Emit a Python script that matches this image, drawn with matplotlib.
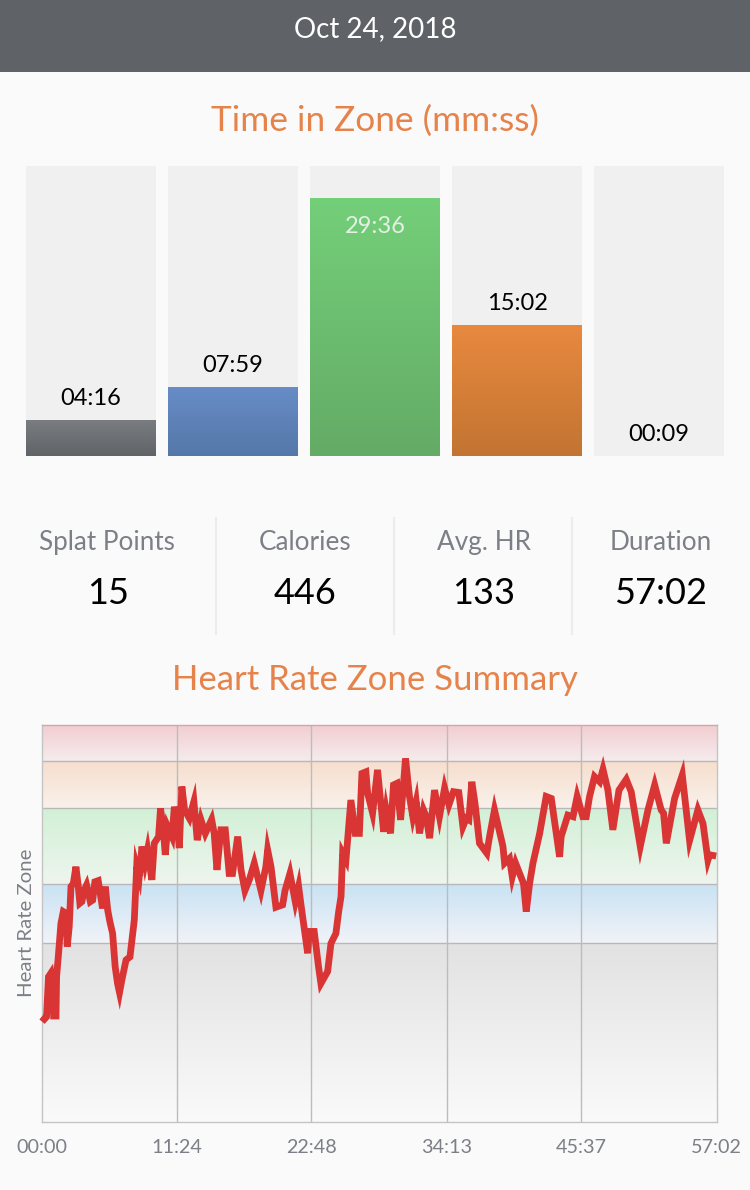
import numpy as np
import matplotlib
matplotlib.use("Agg")
import matplotlib.pyplot as plt
from matplotlib.colors import LinearSegmentedColormap
from matplotlib.patches import Rectangle

plt.rcParams['font.family'] = ['Lato', 'DejaVu Sans']

W, H = 750, 1190

# ---------- data ----------
date_label = "Oct 24, 2018"
zone_seconds = [256, 479, 1776, 902, 9]
zone_labels = ["04:16", "07:59", "29:36", "15:02", "00:09"]
stat_names = ["Splat Points", "Calories", "Avg. HR", "Duration"]
stat_values = ["15", "446", "133", "57:02"]
time_ticks = [0, 684, 1368, 2053, 2737, 3422]
time_tick_labels = ["00:00", "11:24", "22:48", "34:13", "45:37", "57:02"]
zone_edges = [0, 45, 60, 79, 91, 100]

hr_time = [0, 14, 25, 35, 47, 56, 61, 73, 76, 86, 98, 110, 123, 130, 140, 149, 161, 174, 186, 194,
           204, 216, 228, 238, 247, 259, 270, 287, 297, 309, 323, 335, 346, 360, 373, 385, 395, 407,
           428, 448, 470, 482, 495, 509, 524, 537, 559, 571, 593, 603, 617, 627, 639, 661, 673, 684,
           698, 711, 725, 749, 772, 789, 808, 830, 862, 875, 889, 909, 931, 951, 968, 994, 1011, 1031,
           1053, 1078, 1112, 1137, 1146, 1163, 1188, 1222, 1234, 1259, 1286, 1303, 1315, 1337, 1349,
           1357, 1382, 1404, 1416, 1450, 1467, 1492, 1506, 1518, 1526, 1543, 1568, 1590, 1611, 1624,
           1644, 1653, 1678, 1703, 1734, 1747, 1769, 1784, 1801, 1820, 1845, 1865, 1882, 1899, 1916,
           1936, 1950, 1967, 1992, 2017, 2043, 2065, 2088, 2115, 2136, 2153, 2166, 2181, 2197, 2220,
           2257, 2271, 2296, 2339, 2347, 2372, 2386, 2403, 2443, 2457, 2474, 2491, 2525, 2558, 2584,
           2626, 2634, 2668, 2694, 2715, 2744, 2761, 2778, 2803, 2829, 2846, 2871, 2896, 2927, 2964,
           2989, 3035, 3074, 3108, 3141, 3153, 3167, 3209, 3248, 3285, 3327, 3353, 3378, 3386, 3420]
hr_level = [26.5, 25.9, 26.5, 36.6, 37.5, 34.1, 26.7, 26.7, 36.6, 42.5, 50.0, 53.0, 52.6, 44.2, 49.2, 59.3,
            60.1, 64.3, 59.3, 55.1, 55.5, 58.4, 59.7, 57.6, 55.5, 55.9, 60.5, 60.8, 57.6, 53.8, 59.3, 53.4,
            50.5, 47.5, 39.1, 34.9, 32.6, 35.8, 40.8, 41.6, 50.9, 64.3, 61.8, 69.4, 65.2, 68.5, 61.0, 70.2,
            71.9, 79.0, 73.6, 67.3, 74.4, 71.9, 79.4, 76.9, 69.0, 84.5, 78.6, 76.5, 80.7, 71.0, 76.1, 72.7,
            76.2, 72.7, 63.5, 73.6, 73.6, 62.6, 62.6, 71.9, 63.5, 58.3, 61.0, 65.2, 58.3, 64.3, 68.5, 64.3,
            54.1, 54.7, 58.3, 62.6, 55.5, 59.3, 54.7, 46.7, 42.5, 48.0, 48.0, 39.1, 34.9, 37.9, 45.0, 47.5,
            53.0, 56.8, 67.7, 66.0, 81.1, 72.7, 72.7, 87.8, 88.2, 82.8, 77.8, 88.7, 73.1, 78.6, 72.7, 84.9,
            85.3, 76.1, 91.6, 82.0, 76.9, 80.7, 72.7, 78.6, 76.9, 71.5, 83.6, 76.9, 84.1, 79.9, 83.2, 83.0,
            74.4, 76.5, 76.1, 85.7, 80.3, 70.2, 67.7, 71.9, 78.6, 69.4, 65.2, 66.4, 61.8, 65.2, 60.1, 53.0,
            60.1, 65.2, 72.7, 82.0, 81.5, 66.8, 71.9, 77.3, 76.9, 82.0, 76.9, 76.9, 82.0, 87.0, 85.7, 88.8,
            83.6, 73.6, 83.6, 86.3, 83.2, 69.4, 78.6, 84.9, 78.6, 77.8, 70.2, 81.5, 87.4, 70.9, 78.6, 75.2,
            66.0, 67.3, 67.0]

# ---------- styles ----------
bar_grads = [("#797c80", "#606366"), ("#678cc6", "#5577a8"), ("#74cf79", "#64ab66"),
             ("#e8893f", "#c27432"), ("#e8893f", "#c27432")]
label_cols = ["black", "black", "#e4efe5", "black", "black"]
band_grads = [("#e2e2e3", "#fafafb"), ("#c8e2f3", "#f1f3f8"), ("#d2f0d6", "#eef5ee"),
              ("#f6decd", "#f9f1ea"), ("#f2cdd1", "#f5eced")]
ORANGE = "#e5834b"
GREY = "#7c7f86"


def grad(c_top, c_bot):
    return LinearSegmentedColormap.from_list("g", [c_top, c_bot])


def axes_px(l, t, r, b, **kw):
    return fig.add_axes([l / W, 1 - b / H, (r - l) / W, (b - t) / H], **kw)


def ftext(x, y, s, **kw):
    kw.setdefault("ha", "center")
    kw.setdefault("va", "center")
    fig.text(x / W, 1 - y / H, s, **kw)


fig = plt.figure(figsize=(W / 100, H / 100), dpi=100, facecolor="#fafafa")

# header
fig.add_artist(Rectangle((0, 1 - 72 / H), 1, 72 / H, transform=fig.transFigure,
                         facecolor="#5f6367", edgecolor="none"))
ftext(375, 29, date_label, color="white", fontsize=20)
ftext(375, 121, "Time in Zone (mm:ss)", color=ORANGE, fontsize=25.4)
ftext(375, 680, "Heart Rate Zone Summary", color=ORANGE, fontsize=25)

# zone bars
ymin, ymax = 10, 1996
px_unit = (ymax - ymin) / 290
bar_lefts = [26, 168, 310, 452, 594]
for i, (sec, lab) in enumerate(zip(zone_seconds, zone_labels)):
    ax = axes_px(bar_lefts[i], 166, bar_lefts[i] + 130, 456)
    ax.set_xlim(0, 1)
    ax.set_ylim(ymin, ymax)
    ax.axis("off")
    ax.bar([0.5], [ymax], width=1, color="#f0f0f0")
    if i < 4:
        ax.imshow(np.linspace(0, 1, 256).reshape(-1, 1), extent=(0, 1, 0, sec), aspect="auto",
                  cmap=grad(*bar_grads[i]), zorder=2)
        ax.set_xlim(0, 1)
        ax.set_ylim(ymin, ymax)
    if i == 2:
        ax.text(0.5, sec - 28 * px_unit, lab, color=label_cols[i], ha="center", va="center", fontsize=17, zorder=3)
    elif i == 4:
        ax.text(0.5, 23 * px_unit, lab, color=label_cols[i], ha="center", va="center", fontsize=17, zorder=3)
    else:
        ax.text(0.5, sec + 22 * px_unit, lab, color=label_cols[i], ha="center", va="center", fontsize=17, zorder=3)

# stats row
stat_x = [107, 305, 484, 661]
for x, n, v in zip(stat_x, stat_names, stat_values):
    ftext(x, 543, n, color=GREY, fontsize=18.8)
    ftext(x + (1 if n == "Splat Points" else 0), 593, v, color="black", fontsize=26)
for x in [216, 394, 572]:
    fig.add_artist(plt.Line2D([x / W, x / W], [1 - 518 / H, 1 - 634 / H], color="#ececec", lw=1.6))

# heart-rate chart
ax = axes_px(41.6, 725, 716.6, 1122)
ax.set_xlim(0, time_ticks[-1])
ax.set_ylim(0, 100)
ax.set_facecolor("#fafafa")
for k in range(5):
    ax.imshow(np.linspace(0, 1, 256).reshape(-1, 1),
              extent=(0, time_ticks[-1], zone_edges[k], zone_edges[k + 1]),
              aspect="auto", cmap=grad(*band_grads[k]), zorder=1)
ax.set_xlim(0, time_ticks[-1])
ax.set_ylim(0, 100)
for e in zone_edges[1:-1]:
    ax.axhline(e, color="#b8b8b8", lw=1, zorder=2)
for t in time_ticks[1:-1]:
    ax.axvline(t, color="#bcbcbc", lw=1, zorder=2)
ax.plot(hr_time, hr_level, color="#da3535", lw=4.9, solid_joinstyle="miter",
        solid_capstyle="butt", zorder=3, clip_on=False)
for s in ax.spines.values():
    s.set_color("#c4c4c4")
    s.set_linewidth(1)
ax.spines["top"].set_color("#d0a8a8")
ax.set_yticks([])
ax.set_xticks(time_ticks)
ax.set_xticklabels(time_tick_labels, color=GREY, fontsize=14.2)
ax.tick_params(axis="x", length=0, pad=12)
ftext(27, 923, "Heart Rate Zone", color=GREY, fontsize=14.7, rotation=90)

fig.savefig("out.png", dpi=100, facecolor=fig.get_facecolor())
